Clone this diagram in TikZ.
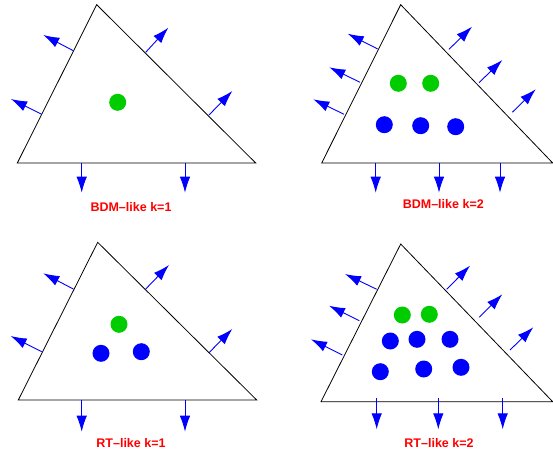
\documentclass[tikz,border=0pt]{standalone}
\usepackage{fontspec}
\setmainfont{Liberation Sans}
\usetikzlibrary{calc,arrows.meta}
\definecolor{dotgreen}{RGB}{0,204,0}

\begin{document}
\begin{tikzpicture}[x=1pt,y=-1pt,
  tri/.style={draw=black,line width=0.8pt,line join=miter},
  flux/.style={draw=blue,line width=0.9pt,-{Latex[length=16pt,width=10.5pt]}},
  gdot/.style={circle,fill=dotgreen,inner sep=0pt,minimum size=17pt},
  bdot/.style={circle,fill=blue,inner sep=0pt,minimum size=17pt},
  lab/.style={text=red,font=\fontsize{12.5}{14}\selectfont\bfseries}]
  \useasboundingbox (0,0) rectangle (553,457);
  % BDM-like k=1
  \coordinate (a1) at (96.7,4.7);
  \coordinate (b1) at (17.3,163);
  \coordinate (c1) at (255.7,163);
  \draw[tri] (a1) -- (b1) -- (c1) -- cycle;
  \draw[flux] (73.3,50.7) -- (43.3,35);
  \draw[flux] (41.7,114.3) -- (11,99);
  \draw[flux] (145.7,52.3) -- (168.3,27.7);
  \draw[flux] (209,115) -- (232.3,91);
  \draw[flux] (81.7,163) -- (81.7,192.7);
  \draw[flux] (185,163) -- (185,192.7);
  \node[gdot] (g11) at (117.7,102.3) {};
  \node[lab] (l1) at (131,206.7) {BDM--like k=1};
  % BDM-like k=2
  \coordinate (a2) at (400.7,4.7);
  \coordinate (b2) at (321.7,163);
  \coordinate (c2) at (552.7,163);
  \draw[tri] (a2) -- (b2) -- (c2) -- cycle;
  \draw[flux] (377.7,49) -- (347.7,33.7);
  \draw[flux] (360,82.3) -- (329.3,67.3);
  \draw[flux] (344,114.3) -- (313.3,99.3);
  \draw[flux] (449,49.3) -- (472,26.7);
  \draw[flux] (479,82.7) -- (502.3,60);
  \draw[flux] (512.3,112.3) -- (535.7,89.3);
  \draw[flux] (375.7,163) -- (375.7,192.7);
  \draw[flux] (439,163) -- (439,192.7);
  \draw[flux] (500,163) -- (500,192.7);
  \node[gdot] (g21) at (398.3,83.3) {};
  \node[gdot] (g22) at (430.7,83.3) {};
  \node[bdot] (b21) at (384.3,124.7) {};
  \node[bdot] (b22) at (420.7,125.7) {};
  \node[bdot] (b23) at (455.7,126.7) {};
  \node[lab] (l2) at (443.3,204) {BDM--like k=2};
  % RT-like k=1
  \coordinate (a3) at (97.7,242.3);
  \coordinate (b3) at (18.3,400);
  \coordinate (c3) at (256.7,400);
  \draw[tri] (a3) -- (b3) -- (c3) -- cycle;
  \draw[flux] (73.3,289) -- (43.3,273.3);
  \draw[flux] (41.7,351.7) -- (10.7,336);
  \draw[flux] (145.7,289) -- (169,265);
  \draw[flux] (209,352.7) -- (232.3,329);
  \draw[flux] (81.7,400) -- (81.7,431.7);
  \draw[flux] (185,400) -- (185,431.7);
  \node[gdot] (g31) at (119,324.3) {};
  \node[bdot] (b31) at (101,353.3) {};
  \node[bdot] (b32) at (141.3,351.7) {};
  \node[lab] (l3) at (131,443.3) {RT--like k=1};
  % RT-like k=2
  \coordinate (a4) at (400.7,244);
  \coordinate (b4) at (321,401.7);
  \coordinate (c4) at (552.7,401.7);
  \draw[tri] (a4) -- (b4) -- (c4) -- cycle;
  \draw[flux] (376.7,289.3) -- (345,274);
  \draw[flux] (359.3,320.7) -- (329,305.7);
  \draw[flux] (342.3,355) -- (311,339.3);
  \draw[flux] (446.7,289.3) -- (470,265.7);
  \draw[flux] (479.3,317.3) -- (502.3,294.3);
  \draw[flux] (510,350) -- (533.3,327.3);
  \draw[flux] (376.7,398) -- (376.7,429.3);
  \draw[flux] (438.3,398) -- (438.3,429.3);
  \draw[flux] (502.7,398) -- (502.7,429.3);
  \node[gdot] (g41) at (402.3,315) {};
  \node[gdot] (g42) at (429.3,314.3) {};
  \node[bdot] (b41) at (390.3,341) {};
  \node[bdot] (b42) at (417,339.3) {};
  \node[bdot] (b43) at (450,339.3) {};
  \node[bdot] (b44) at (380.3,371.7) {};
  \node[bdot] (b45) at (423.7,369) {};
  \node[bdot] (b46) at (461,367.3) {};
  \node[lab] (l4) at (439,443.3) {RT--like k=2};
\end{tikzpicture}
\end{document}
